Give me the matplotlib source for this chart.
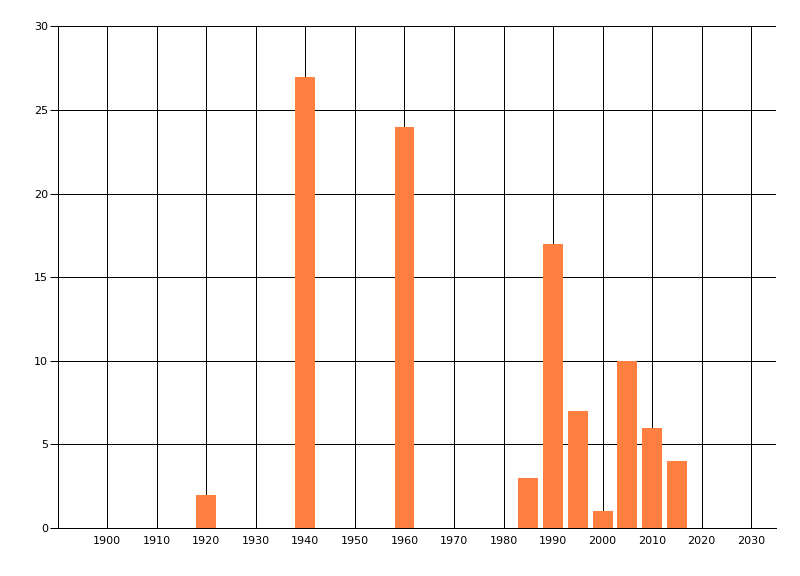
import matplotlib
matplotlib.use("Agg")
import matplotlib.pyplot as plt

years = [1920, 1940, 1960, 1985, 1990, 1995, 2000, 2005, 2010, 2015]
counts = [2, 27, 24, 3, 17, 7, 1, 10, 6, 4]
x_ticks = list(range(1900, 2031, 10))
y_ticks = [0, 5, 10, 15, 20, 25, 30]

bar_color = "#FF7F41"
px = 0.72  # one pixel in points at 100 dpi

fig = plt.figure(figsize=(8, 5.76), dpi=100)
ax = fig.add_axes([0.072, 0.0833, 0.898, 0.8707])

ax.bar(years, counts, width=4, color=bar_color, zorder=2)

ax.set_xlim(1890, 2035)
ax.set_ylim(0, 30)
ax.set_xticks(x_ticks)
ax.set_yticks(y_ticks)

ax.set_axisbelow(True)
ax.grid(True, color="black", linewidth=px)

for side in ["top", "right"]:
    ax.spines[side].set_visible(False)
for side in ["left", "bottom"]:
    ax.spines[side].set_linewidth(px)
    ax.spines[side].set_color("black")

ax.tick_params(axis="x", length=0, pad=6, labelsize=8)
ax.tick_params(axis="y", length=5.8, width=px, pad=1, labelsize=8)

fig.savefig("out.png", dpi=100)
